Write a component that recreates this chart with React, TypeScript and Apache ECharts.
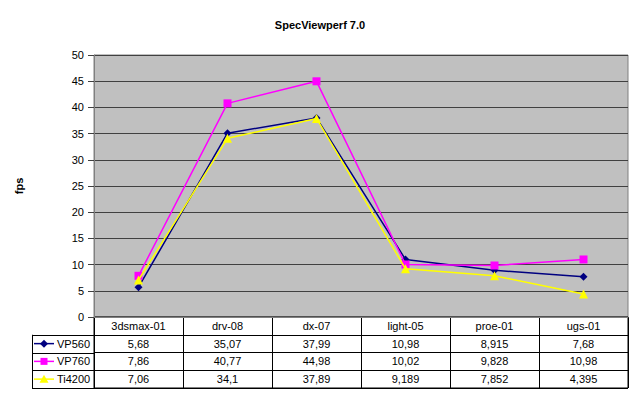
import React, { useEffect, useRef } from "react";
import * as echarts from "echarts";

const categories = ["3dsmax-01", "drv-08", "dx-07", "light-05", "proe-01", "ugs-01"];
const seriesNames = ["VP560", "VP760", "Ti4200"];
const vp560 = [5.68, 35.07, 37.99, 10.98, 8.915, 7.68];
const vp760 = [7.86, 40.77, 44.98, 10.02, 9.828, 10.98];
const ti4200 = [7.06, 34.1, 37.89, 9.189, 7.852, 4.395];
const seriesValues = [vp560, vp760, ti4200];
const seriesColors = ["#000080", "#FF00FF", "#FFFF00"];
const seriesSymbols = ["diamond", "rect", "triangle"];
const seriesSymbolSizes = [8, 8, 9];

const FONT = "'Liberation Sans', Arial, sans-serif";

// layout
const PLOT_LEFT = 94;
const PLOT_RIGHT = 628;
const PLOT_TOP = 55;
const PLOT_BOTTOM = 317;
const TABLE_BOTTOM = 388;
const LEGEND_LEFT = 32;
const W = 640;
const H = 398;

const fmt = (v: number) => String(v).replace(".", ",");

export default function App() {
  const ref = useRef<HTMLDivElement>(null);
  useEffect(() => {
    if (!ref.current) return;
    const chart = echarts.init(ref.current, null, { renderer: "svg" });

    const rowH = (TABLE_BOTTOM - PLOT_BOTTOM) / 4;

    const cellData: any[] = [];
    const cellText: string[] = [];
    categories.forEach((c, i) => {
      cellData.push([i, 0.5]);
      cellText.push(c);
    });
    seriesValues.forEach((vals, r) => {
      vals.forEach((v, i) => {
        cellData.push([i, r + 1.5]);
        cellText.push(fmt(v));
      });
    });

    const graphics: any[] = [];
    // legend column lines
    graphics.push({
      type: "line",
      shape: { x1: LEGEND_LEFT + 0.5, y1: PLOT_BOTTOM + rowH, x2: LEGEND_LEFT + 0.5, y2: TABLE_BOTTOM },
      style: { stroke: "#000", lineWidth: 1 },
    });
    for (let k = 1; k <= 4; k++) {
      const y = Math.round(PLOT_BOTTOM + rowH * k) + 0.5;
      graphics.push({
        type: "line",
        shape: { x1: LEGEND_LEFT, y1: y, x2: PLOT_LEFT, y2: y },
        style: { stroke: "#000", lineWidth: 1 },
      });
    }
    seriesNames.forEach((name, r) => {
      const cy = PLOT_BOTTOM + rowH * (r + 1.5);
      const color = seriesColors[r];
      graphics.push({
        type: "line",
        shape: { x1: 34, y1: cy, x2: 54, y2: cy },
        style: { stroke: color, lineWidth: 1.5 },
      });
      const cx = 44;
      if (r === 0) {
        graphics.push({
          type: "polygon",
          shape: { points: [[cx, cy - 4], [cx + 4, cy], [cx, cy + 4], [cx - 4, cy]] },
          style: { fill: color },
        });
      } else if (r === 1) {
        graphics.push({
          type: "rect",
          shape: { x: cx - 3.5, y: cy - 3.5, width: 7, height: 7 },
          style: { fill: color },
        });
      } else {
        graphics.push({
          type: "polygon",
          shape: { points: [[cx, cy - 4.5], [cx + 4.5, cy + 3.5], [cx - 4.5, cy + 3.5]] },
          style: { fill: color },
        });
      }
      graphics.push({
        type: "text",
        x: 57,
        y: cy,
        style: {
          text: name,
          fill: "#000",
          font: `11px ${FONT}`,
          textAlign: "left",
          textVerticalAlign: "middle",
          verticalAlign: "middle",
        },
      });
    });

    chart.setOption({
      animation: false,
      backgroundColor: "#fff",
      textStyle: { fontFamily: FONT },
      title: {
        text: "SpecViewperf 7.0",
        left: "center",
        top: 14,
        textStyle: { fontSize: 11, fontWeight: "bold", color: "#000", fontFamily: FONT },
      },
      grid: [
        {
          left: PLOT_LEFT,
          right: W - PLOT_RIGHT,
          top: PLOT_TOP,
          height: PLOT_BOTTOM - PLOT_TOP,
          show: true,
          backgroundColor: "#C0C0C0",
          borderColor: "#808080",
          borderWidth: 1,
        },
        {
          left: PLOT_LEFT,
          right: W - PLOT_RIGHT,
          top: PLOT_BOTTOM,
          height: TABLE_BOTTOM - PLOT_BOTTOM,
          show: true,
          backgroundColor: "#fff",
          borderColor: "#000",
          borderWidth: 1,
        },
      ],
      xAxis: [
        {
          gridIndex: 0,
          type: "category",
          data: categories,
          boundaryGap: true,
          axisLabel: { show: false },
          axisTick: { show: false },
          axisLine: { show: true, lineStyle: { color: "#808080" } },
          splitLine: { show: false },
        },
        {
          gridIndex: 1,
          type: "category",
          data: categories,
          boundaryGap: true,
          axisLabel: { show: false },
          axisTick: { show: false },
          axisLine: { show: false },
          splitLine: { show: true, interval: 0, lineStyle: { color: "#000", width: 1 } },
        },
      ],
      yAxis: [
        {
          gridIndex: 0,
          type: "value",
          min: 0,
          max: 50,
          interval: 5,
          name: "fps",
          nameLocation: "middle",
          nameRotate: 90,
          nameGap: 70,
          nameTextStyle: { fontSize: 11, fontWeight: "bold", color: "#000", fontFamily: FONT },
          axisLine: { show: true, lineStyle: { color: "#808080" } },
          axisTick: { show: true, length: 6, lineStyle: { color: "#404040" } },
          axisLabel: { fontSize: 11, color: "#000", margin: 10, fontFamily: FONT },
          splitLine: { show: true, lineStyle: { color: "#404040", width: 1 } },
        },
        {
          gridIndex: 1,
          type: "value",
          min: 0,
          max: 4,
          interval: 1,
          inverse: true,
          axisLine: { show: false },
          axisTick: { show: false },
          axisLabel: { show: false },
          splitLine: { show: true, lineStyle: { color: "#000", width: 1 } },
        },
      ],
      series: [
        ...seriesNames.map((name, r) => ({
          name,
          type: "line",
          xAxisIndex: 0,
          yAxisIndex: 0,
          data: seriesValues[r],
          symbol: seriesSymbols[r],
          symbolSize: seriesSymbolSizes[r],
          showAllSymbol: true,
          lineStyle: { color: seriesColors[r], width: 1.5 },
          itemStyle: { color: seriesColors[r] },
          z: 3 + r,
        })),
        {
          type: "custom",
          xAxisIndex: 1,
          yAxisIndex: 1,
          silent: true,
          data: cellData,
          encode: { x: 0, y: 1 },
          renderItem: (params: any, api: any) => {
            const p = api.coord([api.value(0), api.value(1)]);
            return {
              type: "text",
              x: p[0],
              y: p[1],
              style: {
                text: cellText[params.dataIndex],
                fill: "#000",
                font: `11px ${FONT}`,
                textAlign: "center",
                textVerticalAlign: "middle",
                align: "center",
                verticalAlign: "middle",
              },
            };
          },
        },
      ],
      graphic: graphics,
    });

    return () => chart.dispose();
  }, []);

  return <div ref={ref} style={{ width: W, height: H, position: "absolute", left: 0, top: 0 }} />;
}
